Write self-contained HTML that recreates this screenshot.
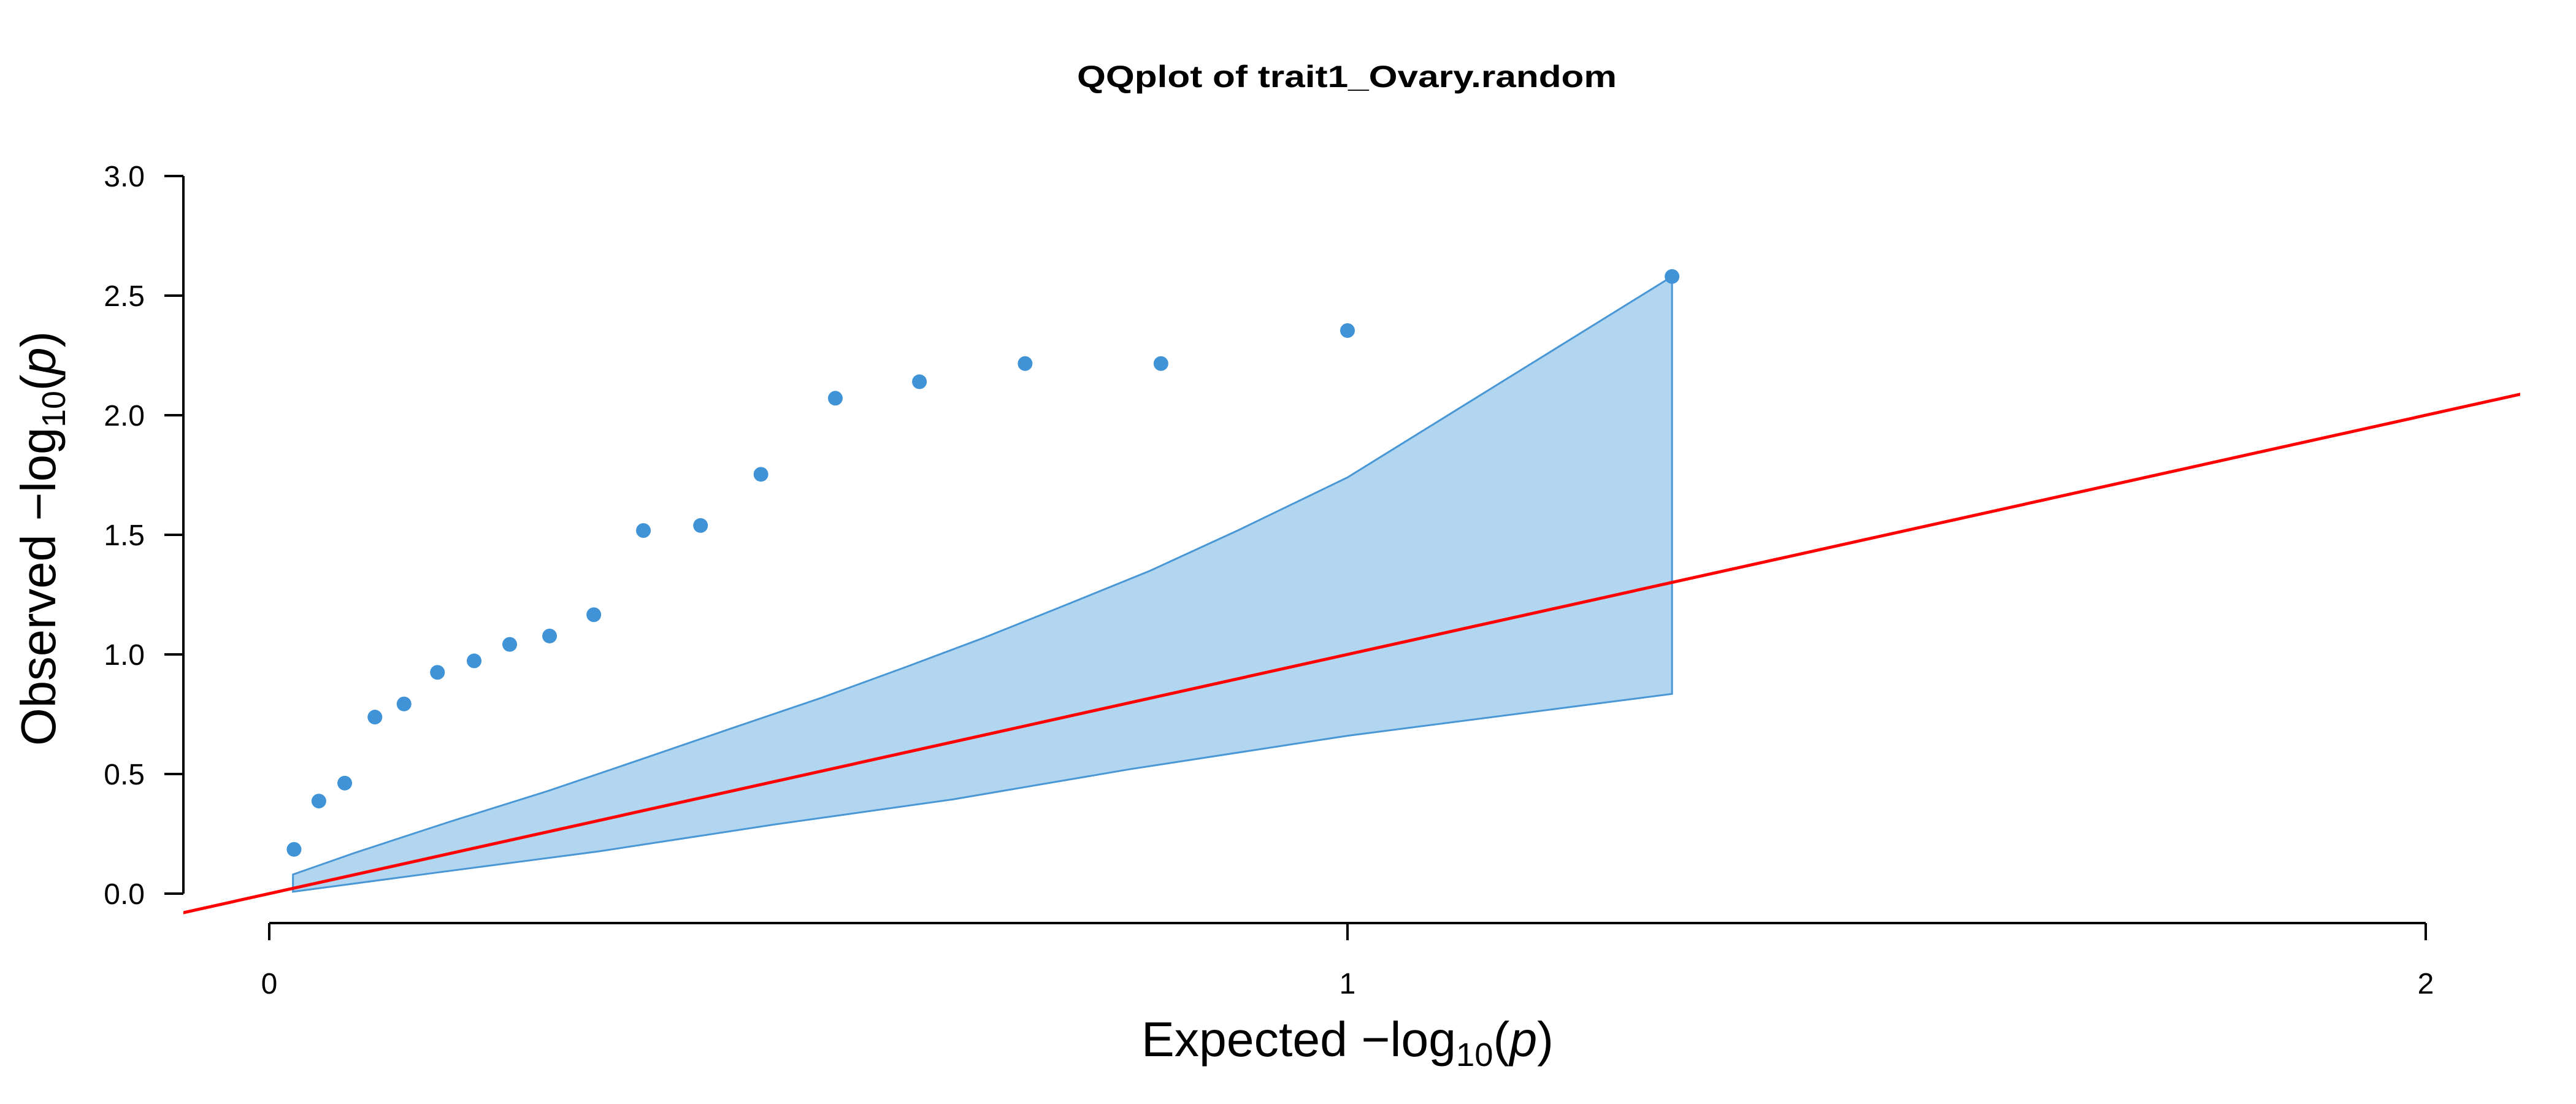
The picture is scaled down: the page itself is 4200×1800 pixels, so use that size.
<!DOCTYPE html>
<html><head><meta charset="utf-8"><style>
html,body{margin:0;padding:0;background:#fff;}
svg{display:block;font-family:"Liberation Sans",sans-serif;}
</style></head><body>
<svg id="chart" width="4200" height="1800" viewBox="0 0 4200 1800" xmlns="http://www.w3.org/2000/svg">
<defs><clipPath id="plotclip"><rect x="299" y="160" width="3810" height="1348"/></clipPath></defs>
<text x="2196" y="142" text-anchor="middle" font-size="50" font-weight="bold" textLength="880" lengthAdjust="spacingAndGlyphs">QQplot of trait1_Ovary.random</text>
<g id="band" clip-path="url(#plotclip)"></g>
<g id="refline" clip-path="url(#plotclip)"></g>
<g id="points"></g>
<g id="yaxis"></g>
<g id="xaxis"></g>
<text transform="translate(90,878) rotate(-90)" text-anchor="middle" font-size="80" textLength="676" lengthAdjust="spacingAndGlyphs">Observed  −log<tspan font-size="54" dy="16">10</tspan><tspan dy="-16">(</tspan><tspan font-style="italic">p</tspan>)</text>
<text x="2197" y="1722" text-anchor="middle" font-size="80" textLength="672" lengthAdjust="spacingAndGlyphs">Expected  −log<tspan font-size="54" dy="16">10</tspan><tspan dy="-16">(</tspan><tspan font-style="italic">p</tspan>)</text>
</svg>
<script>
const expected = [1.301,1.0,0.827,0.701,0.603,0.525,0.456,0.400,0.347,0.301,0.260,0.223,0.190,0.156,0.125,0.098,0.070,0.046,0.023];
const observed = [2.58,2.354,2.216,2.216,2.14,2.071,1.753,1.539,1.518,1.166,1.077,1.042,0.973,0.925,0.793,0.738,0.462,0.387,0.185];
const bandX = [0.022,0.079,0.167,0.259,0.344,0.428,0.513,0.592,0.663,0.735,0.817,0.899,1.0,1.301];
const bandUpper = [0.08,0.17,0.30,0.43,0.56,0.69,0.82,0.95,1.07,1.20,1.35,1.52,1.74,2.58];
const bandLowerX = [0.022,0.142,0.306,0.47,0.634,0.798,1.0,1.301];
const bandLower = [0.008,0.08,0.177,0.29,0.394,0.52,0.66,0.835];
const xTicks = [0,1,2];
const yTicks = [0,0.5,1.0,1.5,2.0,2.5,3.0];
const refRange = [-0.1,2.2];

const NS='http://www.w3.org/2000/svg';
const sx = v => 439 + v*1758;
const sy = v => 1457 - v*390;
function mk(tag, attrs, parent){const e=document.createElementNS(NS,tag);for(const k in attrs)e.setAttribute(k,attrs[k]);parent.appendChild(e);return e;}

const bandG=document.getElementById('band');
let pts=[];
bandX.forEach((x,i)=>pts.push(sx(x)+','+sy(bandUpper[i])));
for(let i=bandLowerX.length-1;i>=0;i--)pts.push(sx(bandLowerX[i])+','+sy(bandLower[i]));
const poly=mk('polygon',{points:pts.join(' '),fill:'#b3d6f0',stroke:'#4a97d6','stroke-width':3},bandG);



const rl=mk('line',{x1:sx(refRange[0]),y1:sy(refRange[0]),x2:sx(refRange[1]),y2:sy(refRange[1]),stroke:'#ff0000','stroke-width':5},document.getElementById('refline'));



const pg=document.getElementById('points');
expected.forEach((x,i)=>{
  const c=mk('circle',{cx:sx(x),cy:sy(observed[i]),r:12,fill:'#3f93d6'},pg);
  
  
});

const ya=document.getElementById('yaxis');
const yl=mk('line',{x1:299,y1:sy(yTicks[0]),x2:299,y2:sy(yTicks[yTicks.length-1]),stroke:'#000','stroke-width':4},ya);


yTicks.forEach(v=>{
  mk('line',{x1:268,y1:sy(v),x2:299,y2:sy(v),stroke:'#000','stroke-width':4},ya);
  const t=mk('text',{x:236,y:sy(v)+17,'text-anchor':'end','font-size':48},ya);
  t.textContent=v.toFixed(1);
  
  
});

const xa=document.getElementById('xaxis');
const xl=mk('line',{x1:sx(xTicks[0]),y1:1505,x2:sx(xTicks[xTicks.length-1]),y2:1505,stroke:'#000','stroke-width':4},xa);


xTicks.forEach(v=>{
  mk('line',{x1:sx(v),y1:1505,x2:sx(v),y2:1533,stroke:'#000','stroke-width':4},xa);
  const t=mk('text',{x:sx(v),y:1620,'text-anchor':'middle','font-size':48},xa);
  t.textContent=String(v);
  
  
});
</script>
</body></html>
